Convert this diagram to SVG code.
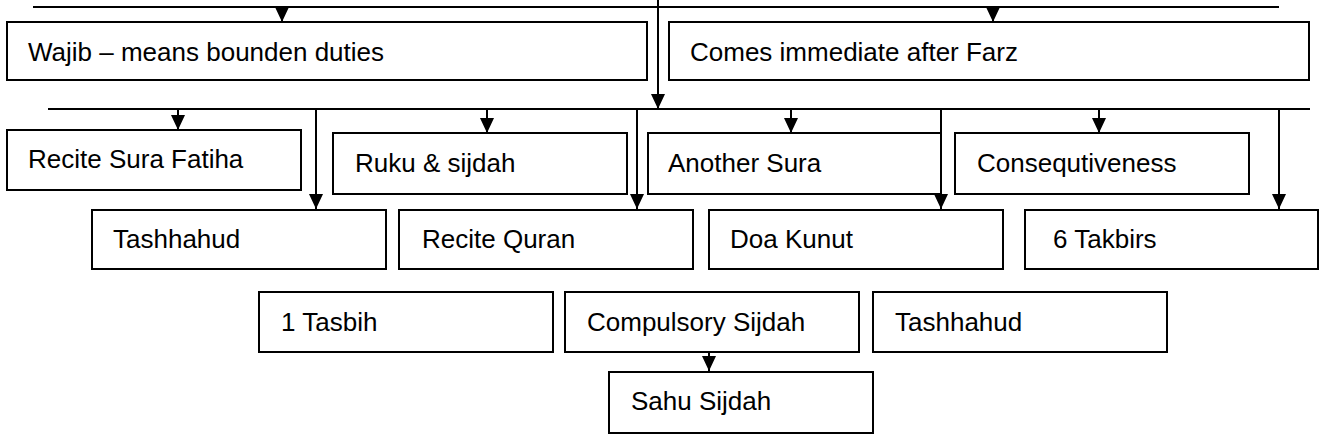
<svg xmlns="http://www.w3.org/2000/svg" width="1322" height="442" viewBox="0 0 1322 442">
<style>
.box{fill:#fff;stroke:#000;stroke-width:2}
.t{font-family:"Liberation Sans",Arial,sans-serif;font-size:26px;fill:#000}
.c{stroke:#000;stroke-width:2;fill:none}
.a{stroke:#000;stroke-width:2;fill:none;marker-end:url(#ah)}
</style>
<defs>
<marker id="ah" markerUnits="userSpaceOnUse" markerWidth="15" markerHeight="14" refX="15" refY="7" orient="auto">
<path d="M0,0 L15,7 L0,14 z" fill="#000"/>
</marker>
</defs>
<rect width="1322" height="442" fill="#fff"/>
<g id="connectors">
<line class="c" x1="33" y1="7" x2="1279" y2="7"/>
<line class="a" x1="282" y1="7" x2="282" y2="22"/>
<line class="a" x1="993" y1="7" x2="993" y2="22"/>
<line class="a" x1="658" y1="0" x2="658" y2="109"/>
<line class="c" x1="48" y1="109" x2="1310" y2="109"/>
<line class="a" x1="178" y1="109" x2="178" y2="130"/>
<line class="a" x1="487" y1="109" x2="487" y2="133"/>
<line class="a" x1="791" y1="109" x2="791" y2="133"/>
<line class="a" x1="1099" y1="109" x2="1099" y2="133"/>
<line class="a" x1="316" y1="109" x2="316" y2="209"/>
<line class="a" x1="637" y1="109" x2="637" y2="209"/>
<line class="a" x1="941" y1="109" x2="941" y2="209"/>
<line class="a" x1="1279" y1="109" x2="1279" y2="209"/>
<line class="a" x1="709" y1="352" x2="709" y2="371"/>
</g>
<g id="wajib"><rect class="box" x="7" y="22" width="640" height="58"/><text class="t" x="28" y="61">Wajib – means bounden duties</text></g>
<g id="comes"><rect class="box" x="669" y="22" width="640" height="58"/><text class="t" x="690" y="61">Comes immediate after Farz</text></g>
<g id="fatiha"><rect class="box" x="7" y="130" width="294" height="60"/><text class="t" x="28" y="168">Recite Sura Fatiha</text></g>
<g id="ruku"><rect class="box" x="333" y="133" width="294" height="61"/><text class="t" x="355" y="172">Ruku &amp; sijdah</text></g>
<g id="another"><rect class="box" x="648" y="133" width="293" height="61"/><text class="t" x="668" y="172">Another Sura</text></g>
<g id="conseq"><rect class="box" x="955" y="133" width="294" height="61"/><text class="t" x="977" y="172">Consequtiveness</text></g>
<g id="tashhahud1"><rect class="box" x="92" y="210" width="294" height="59"/><text class="t" x="113" y="248">Tashhahud</text></g>
<g id="quran"><rect class="box" x="399" y="210" width="294" height="59"/><text class="t" x="422" y="248">Recite Quran</text></g>
<g id="kunut"><rect class="box" x="709" y="210" width="294" height="59"/><text class="t" x="730" y="248">Doa Kunut</text></g>
<g id="takbirs"><rect class="box" x="1025" y="210" width="293" height="59"/><text class="t" x="1053" y="248">6 Takbirs</text></g>
<g id="tasbih"><rect class="box" x="259" y="292" width="294" height="60"/><text class="t" x="281" y="331">1 Tasbih</text></g>
<g id="compulsory"><rect class="box" x="565" y="292" width="294" height="60"/><text class="t" x="587" y="331">Compulsory Sijdah</text></g>
<g id="tashhahud2"><rect class="box" x="873" y="292" width="294" height="60"/><text class="t" x="895" y="331">Tashhahud</text></g>
<g id="sahu"><rect class="box" x="609" y="372" width="264" height="61"/><text class="t" x="631" y="410">Sahu Sijdah</text></g>
</svg>
